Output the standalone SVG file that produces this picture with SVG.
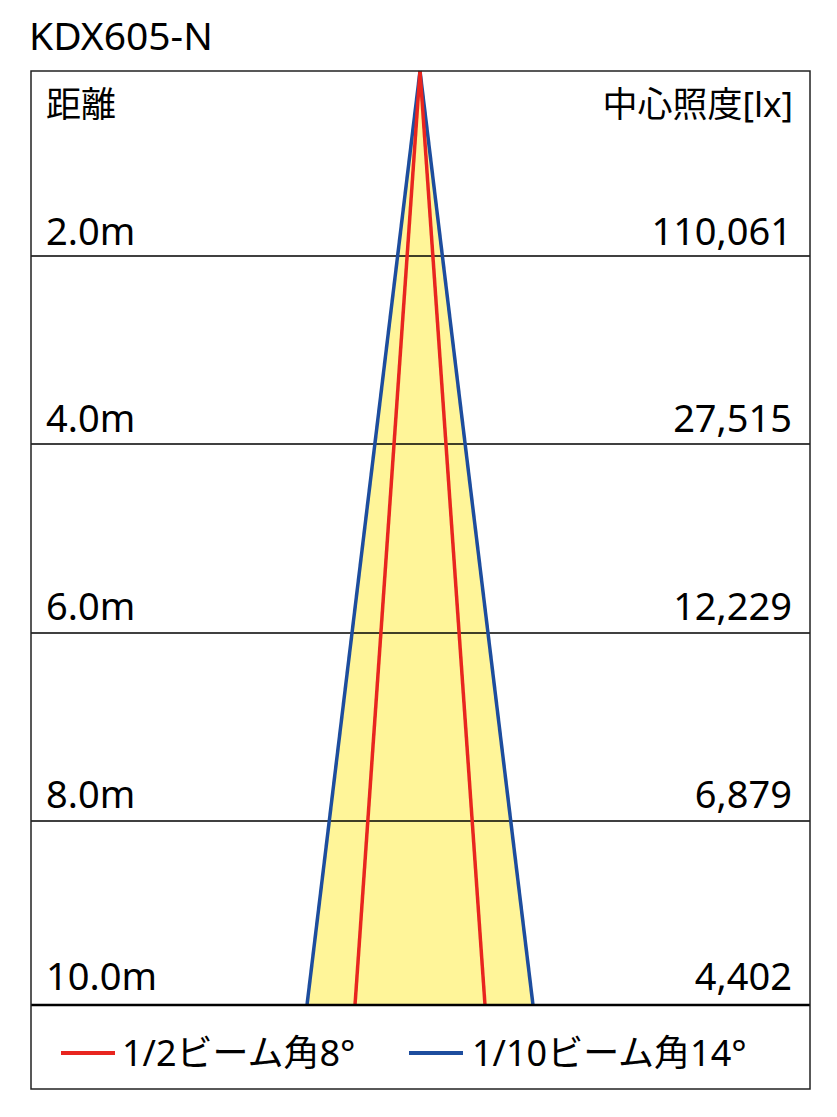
<svg xmlns="http://www.w3.org/2000/svg" width="837" height="1117" viewBox="0 0 837 1117">
<style>
text{font-family:"Noto Sans","Noto Sans CJK JP",sans-serif;fill:#000;}
.lbl{font-size:38px;}
.val{font-size:38px;text-anchor:end;}
.hdr{font-size:35px;}
.leg{font-size:36px;}
.grid{stroke:#000;stroke-width:1.5;}
</style>
<rect x="0" y="0" width="837" height="1117" fill="#fff"/>
<g id="title"><text x="29" y="50" style="font-size:39px">KDX605-N</text></g>
<g id="beam">
<polygon points="420,71 307,1005 533,1005" fill="#fff599"/>
</g>
<g id="connectors">
<line class="grid" x1="31" y1="256" x2="810" y2="256"/>
<line class="grid" x1="31" y1="444" x2="810" y2="444"/>
<line class="grid" x1="31" y1="633" x2="810" y2="633"/>
<line class="grid" x1="31" y1="821" x2="810" y2="821"/>
<line x1="420" y1="71" x2="307" y2="1005" stroke="#1d4d9e" stroke-width="3.5"/>
<line x1="420" y1="71" x2="533" y2="1005" stroke="#1d4d9e" stroke-width="3.5"/>
<line x1="420" y1="71" x2="355" y2="1005" stroke="#e8251f" stroke-width="3.5"/>
<line x1="420" y1="71" x2="485" y2="1005" stroke="#e8251f" stroke-width="3.5"/>
<line x1="31" y1="1005" x2="810" y2="1005" stroke="#000" stroke-width="2.5"/>
</g>
<g id="frame"><rect x="31" y="71" width="779" height="1018" fill="none" stroke="#222" stroke-width="1.5"/></g>
<g id="headers">
<text class="hdr" x="46" y="117">距離</text>
<text class="hdr" x="793" y="117" text-anchor="end">中心照度[lx]</text>
</g>
<g id="row1"><text class="lbl" x="46" y="245">2.0m</text><text class="val" x="792" y="245">110,061</text></g>
<g id="row2"><text class="lbl" x="46" y="432">4.0m</text><text class="val" x="792" y="432">27,515</text></g>
<g id="row3"><text class="lbl" x="46" y="620">6.0m</text><text class="val" x="792" y="620">12,229</text></g>
<g id="row4"><text class="lbl" x="46" y="808">8.0m</text><text class="val" x="792" y="808">6,879</text></g>
<g id="row5"><text class="lbl" x="46" y="990">10.0m</text><text class="val" x="792" y="990">4,402</text></g>
<g id="legend">
<line x1="61" y1="1053" x2="115" y2="1053" stroke="#e8251f" stroke-width="4"/>
<text class="leg" x="122" y="1066">1/2ビーム角8°</text>
<line x1="409" y1="1053" x2="463" y2="1053" stroke="#1d4d9e" stroke-width="4"/>
<text class="leg" x="472" y="1066">1/10ビーム角14°</text>
</g>
</svg>
